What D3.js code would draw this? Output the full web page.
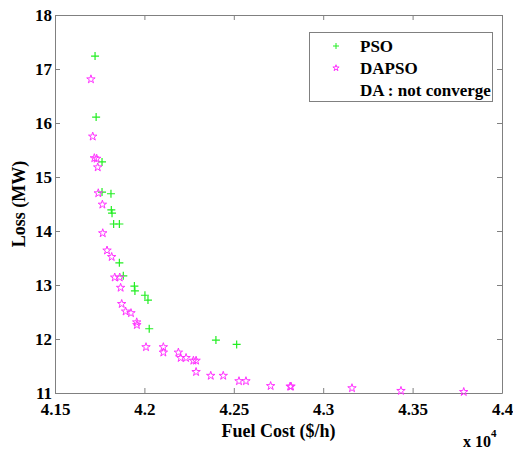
<!DOCTYPE html>
<html>
<head>
<meta charset="utf-8">
<script src="https://cdn.jsdelivr.net/npm/d3@7"></script>
<style>
  body { margin: 0; background: #fff; }
</style>
</head>
<body>
<div id="chart"></div>
<script>
// PSO results (fuel cost $/h, loss MW)
const psoCost = [41724, 41730, 41763, 41763, 41813, 41815, 41819, 41828, 41860, 41860,
                 41882, 41944, 41947, 42003, 42020, 42027, 42400, 42516];
const psoLoss = [17.24, 16.11, 15.28, 14.72, 14.69, 14.39, 14.33, 14.13, 14.13, 13.41,
                 13.17, 12.98, 12.89, 12.81, 12.72, 12.19, 11.98, 11.90];

// DAPSO results
const dapsoCost = [41701, 41711, 41720, 41733, 41739, 41742, 41765, 41767, 41791, 41817,
                   41834, 41862, 41867, 41873, 41895, 41925, 41957, 41958, 42009, 42106,
                   42106, 42190, 42203, 42233, 42274, 42289, 42289, 42371, 42441, 42529,
                   42568, 42706, 42815, 42820, 43161, 43435, 43786];
const dapsoLoss = [16.81, 15.75, 15.35, 15.34, 15.18, 14.70, 14.49, 13.96, 13.64, 13.52,
                   13.14, 13.14, 12.95, 12.65, 12.51, 12.48, 12.31, 12.26, 11.85, 11.85,
                   11.75, 11.75, 11.65, 11.65, 11.60, 11.60, 11.39, 11.32, 11.32, 11.22,
                   11.22, 11.13, 11.12, 11.12, 11.09, 11.04, 11.02];

const xTicks = [41500, 42000, 42500, 43000, 43500, 44000];
const yTicks = [11, 12, 13, 14, 15, 16, 17, 18];
const legendLabels = ['PSO', 'DAPSO', 'DA : not converge'];

const width = 513, height = 450;
const margin = {top: 15, right: 11, bottom: 57, left: 55};
const serif = '"Liberation Serif", "DejaVu Serif", "Times New Roman", serif';

const svg = d3.select('#chart')
    .append('svg')
    .attr('width', width)
    .attr('height', height);

const x = d3.scaleLinear()
    .domain([41500, 44000])
    .range([margin.left, width - margin.right]);

const y = d3.scaleLinear()
    .domain([11, 18])
    .range([height - margin.bottom, margin.top]);

const axisColor = '#808080';
const xFmt = d => String(+(d / 1e4).toFixed(2));

// bottom + top axes (inward ticks)
const xAxisGroup = svg.append('g')
    .attr('transform', `translate(0,${y(11)})`)
    .call(d3.axisBottom(x).tickValues(xTicks).tickSizeInner(-5).tickSizeOuter(0).tickPadding(10).tickFormat(xFmt));
svg.append('g')
    .attr('transform', `translate(0,${y(18)})`)
    .call(d3.axisTop(x).tickValues(xTicks).tickSizeInner(-5).tickSizeOuter(0).tickFormat(''));

// left + right axes
const yAxisGroup = svg.append('g')
    .attr('transform', `translate(${x(41500)},0)`)
    .call(d3.axisLeft(y).tickValues(yTicks).tickSizeInner(-5).tickSizeOuter(0).tickPadding(3).tickFormat(d3.format('d')));
svg.append('g')
    .attr('transform', `translate(${x(44000)},0)`)
    .call(d3.axisRight(y).tickValues(yTicks).tickSizeInner(-5).tickSizeOuter(0).tickFormat(''));

svg.selectAll('.domain, .tick line').attr('stroke', axisColor);
svg.selectAll('g').attr('font-family', null);
xAxisGroup.selectAll('text').style('font-size', '17px');
yAxisGroup.selectAll('text').style('font-size', '17px').attr('dy', '0.3em');

// axis titles
svg.append('text')
    .attr('x', (x(41500) + x(44000)) / 2)
    .attr('y', 437)
    .attr('text-anchor', 'middle')
    .style('font-size', '18px')
    .text('Fuel Cost ($/h)');

svg.append('text')
    .attr('transform', `translate(25,${(y(11) + y(18)) / 2}) rotate(-90)`)
    .attr('text-anchor', 'middle')
    .style('font-size', '18px')
    .text('Loss (MW)');

const expo = svg.append('text')
    .attr('x', 463)
    .attr('y', 447)
    .style('font-size', '16px');
expo.append('tspan').text('x 10');
expo.append('tspan').attr('dy', -10).style('font-size', '11px').text('4');

// markers
const plusPath = 'M-4,0H4M0,-4V4';
const star = d3.symbol().type(d3.symbolStar).size(22);
const green = '#22ee22', magenta = '#ff33ff';

svg.append('g')
    .selectAll('path')
    .data(psoCost.map((c, i) => [c, psoLoss[i]]))
    .join('path')
    .attr('transform', d => `translate(${x(d[0])},${y(d[1])})`)
    .attr('d', plusPath)
    .attr('stroke', green)
    .attr('stroke-width', 1.2)
    .attr('fill', 'none');

svg.append('g')
    .selectAll('path')
    .data(dapsoCost.map((c, i) => [c, dapsoLoss[i]]))
    .join('path')
    .attr('transform', d => `translate(${x(d[0])},${y(d[1])})`)
    .attr('d', star)
    .attr('stroke', magenta)
    .attr('stroke-width', 1)
    .attr('fill', 'none');

// legend
const legend = svg.append('g');
legend.append('rect')
    .attr('x', 309.5).attr('y', 32.5)
    .attr('width', 183).attr('height', 69)
    .attr('fill', '#fff')
    .attr('stroke', axisColor);

const rowY = [46, 68, 90];
legendLabels.forEach((label, i) => {
    legend.append('text')
        .attr('x', 360)
        .attr('y', rowY[i])
        .attr('dy', '0.35em')
        .style('font-size', '17px')
        .text(label);
});
legend.append('path')
    .attr('transform', `translate(336,${rowY[0]})`)
    .attr('d', 'M-3,0H3M0,-3V3')
    .attr('stroke', green)
    .attr('fill', 'none');
legend.append('path')
    .attr('transform', `translate(336,${rowY[1]})`)
    .attr('d', d3.symbol().type(d3.symbolStar).size(12))
    .attr('stroke', magenta)
    .attr('fill', 'none');

// serif bold for every label
svg.selectAll('text')
    .style('font-family', serif)
    .style('font-weight', 'bold')
    .attr('fill', '#000');
</script>
</body>
</html>
